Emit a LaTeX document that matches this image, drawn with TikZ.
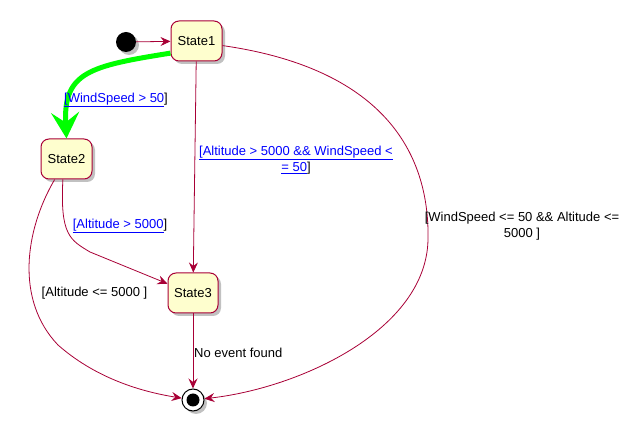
\documentclass[tikz,border=0pt]{standalone}
\usepackage{fontspec}
\setmainfont{Liberation Sans}
\usetikzlibrary{arrows.meta,shadows}
\definecolor{umlred}{HTML}{A80036}
\definecolor{umlfill}{HTML}{FEFECE}
\definecolor{umlblue}{HTML}{0000FF}
\definecolor{umlgreen}{HTML}{00FF00}
\tikzset{
  umlshadow/.style={drop shadow={shadow xshift=3pt,shadow yshift=-3pt,opacity=0.35,fill=black!70}},
  statebox/.style={draw=umlred,fill=umlfill,line width=1pt,rounded corners=8pt,minimum width=51pt,minimum height=40pt,inner sep=0pt,umlshadow},
  trans/.style={draw=umlred,line width=0.8pt,-{Stealth[length=10pt,width=9pt,inset=3.5pt]}},
  guard/.style={align=center,inner sep=0pt}
}
\newcommand{\lnk}[1]{\textcolor{umlblue}{\underline{#1}}}

\begin{document}
\begin{tikzpicture}[x=1pt,y=-1pt,font=\fontsize{13}{16.5}\selectfont]
\useasboundingbox (0,0) rectangle (638,435);

% states
\node[circle,fill=black,minimum size=20pt,inner sep=0pt,umlshadow] (start) at (126,42) {};
\node[statebox] (state1) at (196.5,41) {State1};
\node[statebox] (state2) at (66.5,159) {State2};
\node[statebox,minimum width=50pt] (state3) at (193,293) {State3};
\node[circle,draw=black,fill=white,line width=1pt,minimum size=22pt,inner sep=0pt,umlshadow] (finish) at (193,400) {};
\fill (finish) circle (6.5);

% transitions
\draw[trans] (start) -- (state1);
\draw[draw=umlgreen,line width=5pt,-{Stealth[length=26pt,width=28pt,inset=10pt]}] (state1.-155) .. controls (90,66) and (63,72) .. (state2.north);
\draw[trans] (state1) -- (state3);
\draw[trans] (state1.-10) .. controls (380,68) and (430,150) .. (428,240) .. controls (426,330) and (300,388) .. (finish);
\draw[trans] (state2.-100) .. controls (60,235) and (70,240) .. (90,252) -- (state3.160);
\draw[trans] (state2.-120) .. controls (25,230) and (15,300) .. (58,345) .. controls (100,382) and (150,393) .. (finish);
\draw[trans] (state3) -- (finish);

% guards
\node[guard] (g12) at (116,100) {\lnk{[WindSpeed > 50}]};
\node[guard] (g13) at (296,160) {\lnk{[Altitude > 5000 \&\& WindSpeed <}\\\lnk{= 50}]};
\node[guard] (g1f) at (522,226) {[WindSpeed <= 50 \&\& Altitude <=\\5000 ]};
\node[guard] (g23) at (120,226) {\lnk{[Altitude > 5000}]};
\node[guard] (g2f) at (94.5,293) {[Altitude <= 5000 ]};
\node[guard,anchor=west] (g3f) at (194,353) {No event found};

\end{tikzpicture}
\end{document}
